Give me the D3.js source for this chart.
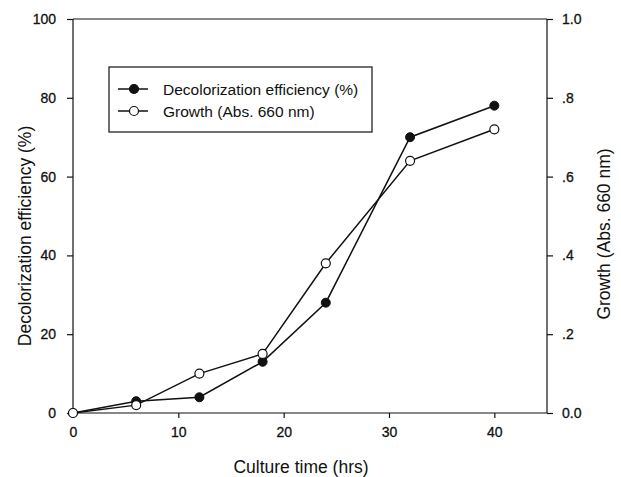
<!DOCTYPE html>
<html>
<head>
<meta charset="utf-8">
<script src="https://cdn.jsdelivr.net/npm/d3@7"></script>
<style>
  body { margin: 0; background: white; }
  svg text { font-family: "Liberation Sans", Arial, sans-serif; fill: #111; }
</style>
</head>
<body>
<svg id="chart" width="621" height="477"></svg>
<script>
const hours = [0, 6, 12, 18, 24, 32, 40];
const decolorization = [0, 3, 4, 13, 28, 70, 78];
const growth = [0, 0.02, 0.10, 0.15, 0.38, 0.64, 0.72];
const xTicks = [0, 10, 20, 30, 40];
const leftTicks = [0, 20, 40, 60, 80, 100];
const rightTicks = [0, 0.2, 0.4, 0.6, 0.8, 1.0];
const rightLabels = ["0.0", ".2", ".4", ".6", ".8", "1.0"];
const legendLabels = ["Decolorization efficiency (%)", "Growth (Abs. 660 nm)"];

const svg = d3.select("#chart");
const margin = { top: 19, right: 74, bottom: 64, left: 73 };
const width = 621, height = 477;
const x0 = margin.left, x1 = width - margin.right;
const y0 = height - margin.bottom, y1 = margin.top;

const x = d3.scaleLinear().domain([0, 45]).range([x0, x1]);
const yL = d3.scaleLinear().domain([0, 100]).range([y0, y1]);
const yR = d3.scaleLinear().domain([0, 1]).range([y0, y1]);

// top frame line
svg.append("line")
  .attr("x1", x0).attr("x2", x1)
  .attr("y1", y1).attr("y2", y1)
  .attr("stroke", "#111").attr("stroke-width", 1.2);

const xAxis = svg.append("g")
  .attr("transform", `translate(0,${y0})`)
  .call(d3.axisBottom(x).tickValues(xTicks).tickSize(5).tickPadding(9));

const lAxis = svg.append("g")
  .attr("transform", `translate(${x0},0)`)
  .call(d3.axisLeft(yL).tickValues(leftTicks).tickSize(6).tickPadding(11));

const rAxis = svg.append("g")
  .attr("transform", `translate(${x1},0)`)
  .call(d3.axisRight(yR).tickValues(rightTicks).tickSize(6).tickPadding(9)
    .tickFormat((d, i) => rightLabels[i]));

[xAxis, lAxis, rAxis].forEach(g => {
  g.select(".domain").attr("stroke", "#111").attr("stroke-width", 1.2);
  g.selectAll(".tick line").attr("stroke", "#111").attr("stroke-width", 1.2);
  g.selectAll(".tick text")
    .attr("font-size", "14px")
    .attr("font-family", "Liberation Sans, Arial, sans-serif")
    .attr("fill", "#111")
    .attr("stroke", "#111").attr("stroke-width", 0.3);
});
// plain domain lines without end caps
xAxis.select(".domain").attr("d", `M${x0},0H${x1}`);
lAxis.select(".domain").attr("d", `M0,${y0}V${y1}`);
rAxis.select(".domain").attr("d", `M0,${y0}V${y1}`);

// axis titles
svg.append("text")
  .attr("x", 301).attr("y", 473)
  .attr("text-anchor", "middle")
  .attr("font-size", "17.5px")
  .text("Culture time (hrs)");

svg.append("text")
  .attr("transform", "translate(31,236) rotate(-90)")
  .attr("text-anchor", "middle")
  .attr("font-size", "17.5px")
  .text("Decolorization efficiency (%)");

svg.append("text")
  .attr("transform", "translate(610,234) rotate(-90)")
  .attr("text-anchor", "middle")
  .attr("font-size", "17.5px")
  .text("Growth (Abs. 660 nm)");

// series lines
const lineDec = d3.line().x((d, i) => x(hours[i])).y(d => yL(d));
const lineGro = d3.line().x((d, i) => x(hours[i])).y(d => yR(d));

svg.append("path").datum(decolorization)
  .attr("d", lineDec).attr("fill", "none")
  .attr("stroke", "#111").attr("stroke-width", 1.5);
svg.append("path").datum(growth)
  .attr("d", lineGro).attr("fill", "none")
  .attr("stroke", "#111").attr("stroke-width", 1.5);

svg.selectAll(".dec").data(decolorization).enter().append("circle")
  .attr("class", "dec")
  .attr("cx", (d, i) => x(hours[i])).attr("cy", d => yL(d))
  .attr("r", 4.5).attr("fill", "#111").attr("stroke", "#111");

svg.selectAll(".gro").data(growth).enter().append("circle")
  .attr("class", "gro")
  .attr("cx", (d, i) => x(hours[i])).attr("cy", d => yR(d))
  .attr("r", 4.5).attr("fill", "white").attr("stroke", "#111").attr("stroke-width", 1.2);

// legend
const legend = svg.append("g");
legend.append("rect")
  .attr("x", 109).attr("y", 67).attr("width", 263).attr("height", 65)
  .attr("fill", "white").attr("stroke", "#111").attr("stroke-width", 1.2);

legendLabels.forEach((lab, i) => {
  const ly = 89 + i * 22;
  legend.append("line")
    .attr("x1", 118).attr("x2", 148).attr("y1", ly).attr("y2", ly)
    .attr("stroke", "#111").attr("stroke-width", 1.5);
  legend.append("circle")
    .attr("cx", 134).attr("cy", ly).attr("r", 4.5)
    .attr("fill", i === 0 ? "#111" : "white")
    .attr("stroke", "#111").attr("stroke-width", 1.2);
  legend.append("text")
    .attr("x", 163).attr("y", ly + 5.5)
    .attr("font-size", "15.5px")
    .text(lab);
});
</script>
</body>
</html>
